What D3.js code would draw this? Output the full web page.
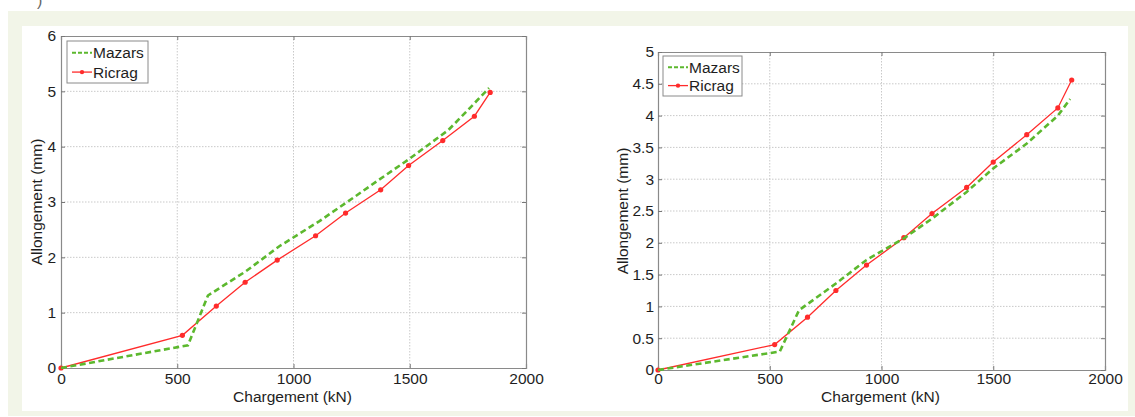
<!DOCTYPE html>
<html><head><meta charset="utf-8">
<script src="https://cdn.jsdelivr.net/npm/d3@7"></script>
<style>html,body{margin:0;padding:0;background:#fff;}svg{display:block;font-family:"Liberation Sans",Arial,sans-serif;}</style>
</head><body>
<svg id="c" width="1135" height="417"></svg>
<script>
// ---- data ----
const seriesNames = ["Mazars", "Ricrag"];
const xTicks = [0, 500, 1000, 1500, 2000];
const yTicksLeft = [0, 1, 2, 3, 4, 5, 6];
const yTicksRight = [0, 0.5, 1, 1.5, 2, 2.5, 3, 3.5, 4, 4.5, 5];

const leftMazarsX = [0, 546, 632, 796, 939, 1110, 1224, 1367, 1495, 1666, 1752, 1841];
const leftMazarsY = [0, 0.41, 1.31, 1.75, 2.20, 2.65, 2.98, 3.40, 3.77, 4.30, 4.67, 5.06];
const leftRicragX = [0, 522, 668, 792, 930, 1095, 1224, 1375, 1495, 1642, 1778, 1846];
const leftRicragY = [0, 0.59, 1.12, 1.55, 1.95, 2.39, 2.80, 3.22, 3.66, 4.11, 4.55, 4.98];

const rightMazarsX = [0, 545, 631, 796, 933, 1100, 1226, 1381, 1500, 1650, 1789, 1844];
const rightMazarsY = [0, 0.29, 0.94, 1.36, 1.73, 2.07, 2.38, 2.80, 3.17, 3.56, 4.00, 4.26];
const rightRicragX = [0, 522, 669, 796, 933, 1100, 1226, 1381, 1500, 1650, 1789, 1851];
const rightRicragY = [0, 0.40, 0.83, 1.25, 1.65, 2.08, 2.46, 2.87, 3.27, 3.70, 4.12, 4.56];

const xLabel = "Chargement (kN)";
const yLabel = "Allongement (mm)";

// ---- drawing ----
const FS = 15.5;
const svg = d3.select("#c");
svg.append("rect").attr("x", 8).attr("y", 11).attr("width", 1127).attr("height", 405).attr("fill", "#f2f5e8");
svg.append("rect").attr("x", 22).attr("y", 26).attr("width", 1106).attr("height", 385).attr("fill", "#ffffff");
svg.append("text").attr("x", 37).attr("y", 6).attr("font-size", 16).attr("fill", "#666").text(")");

const GREEN = "#5cb82e", RED = "#ff2b2b", AX = "#8a8a8a", TXT = "#1e1e1e";

function panel(cfg) {
  const x = d3.scaleLinear().domain([0, 2000]).range([cfg.x0, cfg.x1]);
  const y = d3.scaleLinear().domain([0, cfg.ymax]).range([cfg.y1, cfg.y0]);
  const g = svg.append("g");
  // grid
  g.append("g").selectAll("line").data(xTicks.slice(1, -1)).join("line")
    .attr("x1", d => x(d)).attr("x2", d => x(d)).attr("y1", cfg.y0).attr("y2", cfg.y1)
    .attr("stroke", "#c9c9c9").attr("stroke-dasharray", "1.5,1.5").attr("stroke-width", 1);
  g.append("g").selectAll("line").data(cfg.yTicks.slice(1, -1)).join("line")
    .attr("y1", d => y(d)).attr("y2", d => y(d)).attr("x1", cfg.x0).attr("x2", cfg.x1)
    .attr("stroke", "#c9c9c9").attr("stroke-dasharray", "1.5,1.5").attr("stroke-width", 1);
  // axes via d3 axis (inner ticks)
  const ax = g.append("g").attr("transform", `translate(0,${cfg.y1})`)
    .call(d3.axisBottom(x).tickValues(xTicks).tickSize(-4).tickPadding(cfg.xpad).tickFormat(d3.format("d")));
  const axT = g.append("g").attr("transform", `translate(0,${cfg.y0})`)
    .call(d3.axisTop(x).tickValues(xTicks).tickSize(-4).tickFormat(""));
  const ay = g.append("g").attr("transform", `translate(${cfg.x0},0)`)
    .call(d3.axisLeft(y).tickValues(cfg.yTicks).tickSize(-4).tickPadding(cfg.ypad).tickFormat(d => d3.format("")(d)));
  const ayR = g.append("g").attr("transform", `translate(${cfg.x1},0)`)
    .call(d3.axisRight(y).tickValues(cfg.yTicks).tickSize(-4).tickFormat(""));
  [ax, axT, ay, ayR].forEach(a => {
    a.select(".domain").attr("stroke", AX).attr("stroke-width", 1.2);
    a.selectAll(".tick line").attr("stroke", "#777");
    a.selectAll("text").attr("font-size", FS).attr("fill", TXT).attr("font-family", "Liberation Sans, Arial, sans-serif");
  });
  // labels
  g.append("text").attr("x", (cfg.x0 + cfg.x1) / 2 - 1).attr("y", 402).attr("text-anchor", "middle")
    .attr("font-size", FS).attr("fill", TXT).text(xLabel);
  g.append("text").attr("transform", `translate(${cfg.ylx},${(cfg.y0 + cfg.y1) / 2}) rotate(-90)`)
    .attr("text-anchor", "middle").attr("font-size", FS).attr("fill", TXT).text(yLabel);
  // lines
  const line = d3.line().x(d => x(d[0])).y(d => y(d[1]));
  const mz = cfg.mx.map((v, i) => [v, cfg.my[i]]);
  const rc = cfg.rx.map((v, i) => [v, cfg.ry[i]]);
  g.append("path").datum(rc).attr("d", line).attr("fill", "none").attr("stroke", RED).attr("stroke-width", 1.3);
  g.append("g").selectAll("circle").data(rc).join("circle")
    .attr("cx", d => x(d[0])).attr("cy", d => y(d[1])).attr("r", 2.6).attr("fill", RED);
  g.append("path").datum(mz).attr("d", line).attr("fill", "none").attr("stroke", GREEN)
    .attr("stroke-width", 2.6).attr("stroke-dasharray", "6,3.5");
  // legend
  const L = cfg.leg;
  g.append("rect").attr("x", L.x).attr("y", L.y).attr("width", L.w).attr("height", L.h)
    .attr("fill", "#fff").attr("stroke", "#8a8a8a").attr("stroke-width", 1);
  const rows = [L.y + L.h * 0.28, L.y + L.h * 0.74];
  seriesNames.forEach((name, i) => {
    const yy = rows[i];
    const col = i === 0 ? GREEN : RED;
    g.append("line").attr("x1", L.x + 5).attr("x2", L.x + 25).attr("y1", yy).attr("y2", yy)
      .attr("stroke", col).attr("stroke-width", i === 0 ? 2 : 1.3)
      .attr("stroke-dasharray", i === 0 ? "4,2" : null);
    if (i === 1) g.append("circle").attr("cx", L.x + 15).attr("cy", yy).attr("r", 2.2).attr("fill", RED);
    g.append("text").attr("x", L.x + 26).attr("y", yy).attr("dy", "0.36em")
      .attr("font-size", FS).attr("fill", TXT).text(name);
  });
}

panel({x0: 61, x1: 526, y0: 36, y1: 368, ymax: 6, yTicks: yTicksLeft, ylx: 42, ypad: 5, xpad: 5,
  mx: leftMazarsX, my: leftMazarsY, rx: leftRicragX, ry: leftRicragY,
  leg: {x: 67, y: 41, w: 81, h: 42}});
panel({x0: 658, x1: 1105, y0: 52, y1: 370, ymax: 5, yTicks: yTicksRight, ylx: 628, ypad: 4, xpad: 3,
  mx: rightMazarsX, my: rightMazarsY, rx: rightRicragX, ry: rightRicragY,
  leg: {x: 663, y: 56, w: 79, h: 40}});
</script>
</body></html>
